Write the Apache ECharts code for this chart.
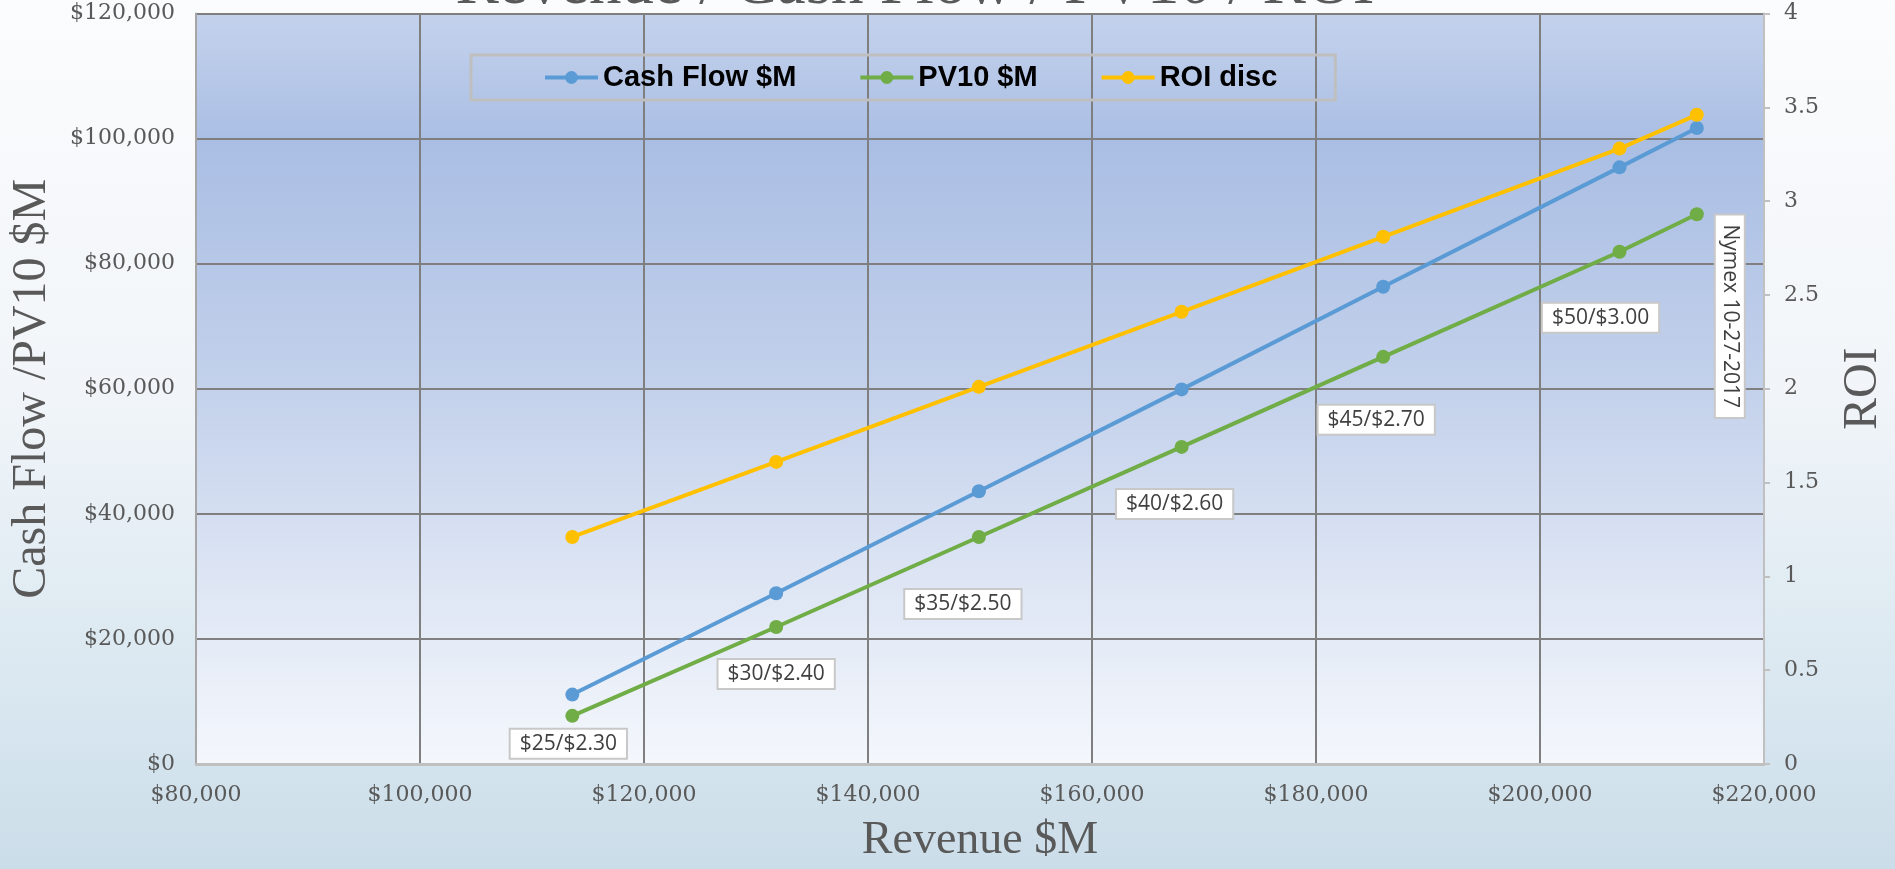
<!DOCTYPE html>
<html>
<head>
<meta charset="utf-8">
<title>Revenue / Cash Flow / PV10 / ROI</title>
<script src="https://cdn.jsdelivr.net/npm/echarts@6/dist/echarts.min.js"></script>
<style>
  html, body { margin: 0; padding: 0; overflow: hidden; }
  body { background: linear-gradient(180deg, #fbfcfd 0%, #f1f5f9 45%, #d9e7f0 80%, #cbdde9 100%); }
  #chart { width: 1895px; height: 869px; }
</style>
</head>
<body>
<div id="chart"></div>
<script>
  // data
  const revenue = [113600, 131800, 149900, 168000, 186000, 207100, 214000];
  const cashFlow = [11100, 27300, 43600, 59900, 76300, 95400, 101700];
  const pv10 = [7700, 21900, 36300, 50700, 65100, 81900, 87900];
  const roi = [1.21, 1.61, 2.01, 2.41, 2.81, 3.28, 3.46];
  const priceLabels = ['$25/$2.30', '$30/$2.40', '$35/$2.50', '$40/$2.60', '$45/$2.70', '$50/$3.00', 'Nymex 10-27-2017'];
  const seriesNames = ['Cash Flow $M', 'PV10 $M', 'ROI disc'];

  // where each price label sits relative to its PV10 point
  // (the last one is rotated, so its offset is given in the rotated frame)
  const labelOffsets = [[-4, 28], [0, 47], [-16, 67], [-7, 57], [-7, 63], [-19, 66], [102, -33]];

  const colors = ['#5b9bd5', '#70ad47', '#ffc000'];
  const serif = "'DejaVu Serif', serif";
  const bigSerif = "'Liberation Serif', serif";

  const pairs = (ys) => revenue.map((x, i) => [x, ys[i]]);

  const pvData = revenue.map((x, i) => ({
    value: [x, pv10[i]],
    label: {
      show: true,
      formatter: priceLabels[i],
      position: 'inside',
      offset: labelOffsets[i],
      rotate: i === priceLabels.length - 1 ? -90 : 0
    }
  }));

  const lineSeries = (name, data, color, yAxisIndex) => ({
    name: name,
    type: 'line',
    data: data,
    yAxisIndex: yAxisIndex,
    symbol: 'circle',
    symbolSize: 14,
    color: color,
    lineStyle: { width: 4, color: color },
    itemStyle: { color: color },
    emphasis: { disabled: true },
    animation: false
  });

  const pvSeries = lineSeries(seriesNames[1], pvData, colors[1], 0);
  pvSeries.label = {
    color: '#404040',
    fontFamily: "'Open Sans', sans-serif",
    fontSize: 21,
    backgroundColor: '#ffffff',
    borderColor: '#c8c8c8',
    borderWidth: 2,
    padding: [4, 9, 3, 9]
  };
  pvSeries.z = 3;

  const chart = echarts.init(document.getElementById('chart'));
  chart.setOption({
    backgroundColor: 'transparent',
    title: {
      text: 'Revenue / Cash Flow / PV10 / ROI',
      left: 910,
      top: -52,
      textAlign: 'center',
      textStyle: { fontFamily: bigSerif, fontSize: 65, fontWeight: 'normal', color: '#595959' }
    },
    legend: {
      data: seriesNames,
      left: 471,
      top: 55,
      padding: [8, 58, 8, 72],
      itemGap: 62,
      itemWidth: 53,
      itemHeight: 16,
      lineStyle: { width: 4 },
      borderColor: '#bfbfbf',
      borderWidth: 3,
      textStyle: { fontFamily: "'Liberation Sans', sans-serif", fontWeight: 'bold', fontSize: 29, color: '#000000' }
    },
    grid: {
      left: 193,
      right: 123,
      top: 13.5,
      bottom: 102.5,
      show: true,
      borderWidth: 0,
      backgroundColor: new echarts.graphic.LinearGradient(0, 0, 0, 1, [
        { offset: 0, color: '#c4d2ec' },
        { offset: 0.17, color: '#aabee4' },
        { offset: 0.5, color: '#c3d1eb' },
        { offset: 0.75, color: '#dde5f4' },
        { offset: 1, color: '#f4f7fc' }
      ])
    },
    xAxis: {
      type: 'value',
      min: 80000,
      max: 220000,
      interval: 20000,
      name: 'Revenue $M',
      nameLocation: 'middle',
      nameGap: 54,
      nameTextStyle: { fontFamily: bigSerif, fontSize: 46, color: '#595959' },
      axisLine: { show: true, lineStyle: { color: '#bfbfbf', width: 3 } },
      axisTick: { show: false },
      axisLabel: {
        margin: 20,
        fontFamily: serif,
        fontSize: 22,
        color: '#595959',
        formatter: (v) => '$' + v.toLocaleString('en-US')
      },
      splitLine: { show: true, lineStyle: { color: '#7f7f7f', width: 2 } }
    },
    yAxis: [
      {
        type: 'value',
        min: 0,
        max: 120000,
        interval: 20000,
        name: 'Cash Flow /PV10 $M',
        nameLocation: 'middle',
        nameGap: 140,
        nameTextStyle: { fontFamily: bigSerif, fontSize: 48, color: '#595959' },
        axisLine: { show: true, lineStyle: { color: '#a6a6a6', width: 2 } },
        axisTick: { show: false },
        axisLabel: {
          margin: 21,
          fontFamily: serif,
          fontSize: 22,
          color: '#595959',
          formatter: (v) => '$' + v.toLocaleString('en-US')
        },
        splitLine: { show: true, lineStyle: { color: '#7f7f7f', width: 2 } }
      },
      {
        type: 'value',
        position: 'right',
        min: 0,
        max: 4,
        interval: 0.5,
        name: 'ROI',
        nameLocation: 'middle',
        nameGap: 75,
        nameRotate: 90,
        nameTextStyle: { fontFamily: bigSerif, fontSize: 48, color: '#595959' },
        axisLine: { show: true, lineStyle: { color: '#c0c0c0', width: 2 } },
        axisTick: { show: true, length: 6, lineStyle: { color: '#c0c0c0', width: 2 } },
        axisLabel: { margin: 20, fontFamily: serif, fontSize: 22, color: '#595959' },
        splitLine: { show: false }
      }
    ],
    series: [
      lineSeries(seriesNames[0], pairs(cashFlow), colors[0], 0),
      pvSeries,
      lineSeries(seriesNames[2], pairs(roi), colors[2], 1)
    ]
  });
</script>
</body>
</html>
